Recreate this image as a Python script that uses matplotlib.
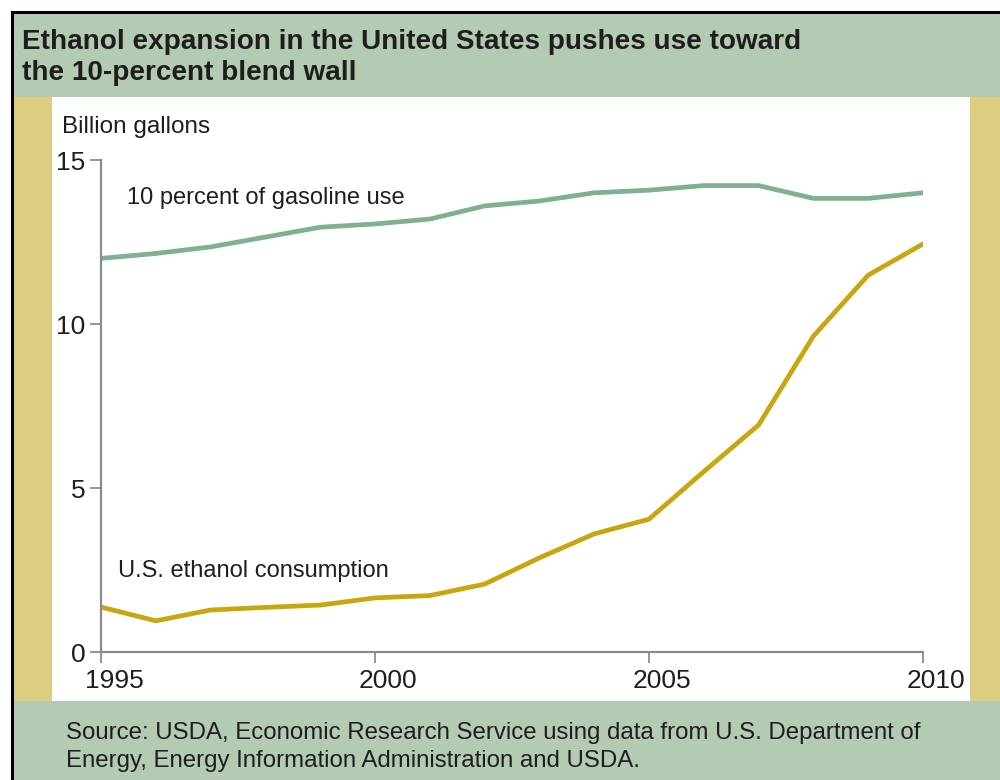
import matplotlib.pyplot as plt
from matplotlib.patches import Rectangle
from matplotlib.transforms import offset_copy

plt.rcParams['font.family'] = ['Liberation Sans', 'DejaVu Sans']

years = list(range(1995, 2011))
gasoline_10pct = [12.0, 12.15, 12.35, 12.65, 12.95, 13.05, 13.2, 13.6, 13.75,
                  14.0, 14.08, 14.22, 14.22, 13.83, 13.83, 14.0]
ethanol_use = [1.37, 0.95, 1.28, 1.36, 1.43, 1.65, 1.72, 2.07, 2.87,
               3.6, 4.05, 5.5, 6.92, 9.63, 11.49, 12.44]
x_ticks = [1995, 2000, 2005, 2010]
y_ticks = [0, 5, 10, 15]

HEADER = '#b3cbb3'
SIDE = '#ddcd80'
GREEN = '#7fb190'
GOLD = '#c9a60d'
AXIS = '#8c8c8c'
INK = '#1e1e1e'

W, H = 1000, 780
fig = plt.figure(figsize=(10, 7.8), dpi=100)


def box(x0, y0, x1, y1, color):
    # pixel coords, origin at top-left
    fig.patches.append(Rectangle((x0 / W, 1 - y1 / H), (x1 - x0) / W, (y1 - y0) / H,
                                 transform=fig.transFigure, facecolor=color,
                                 edgecolor='none', zorder=0))


def label(x, y, s, **kw):
    fig.text(x / W, 1 - y / H, s, va='center', ha='left', color=INK, **kw)


box(12, 12, W, 97, HEADER)
box(12, 97, 52, 701, SIDE)
box(970, 97, W, 701, SIDE)
box(12, 701, W, H, HEADER)
fig.patches.append(Rectangle((11.5 / W, -0.1), 1.2, 1 - 12.5 / H + 0.1,
                             transform=fig.transFigure, facecolor='none',
                             edgecolor='black', linewidth=2.2, zorder=5))

label(22, 42, 'Ethanol expansion in the United States pushes use toward',
      fontsize=20.1, fontweight='bold')
label(22, 73, 'the 10-percent blend wall', fontsize=20.1, fontweight='bold')
label(62, 127, 'Billion gallons', fontsize=17.5)
label(66, 733, 'Source: USDA, Economic Research Service using data from U.S. Department of',
      fontsize=17.25)
label(66, 761, 'Energy, Energy Information Administration and USDA.', fontsize=17.25)

ax = fig.add_axes([101 / W, 1 - 652 / H, 822 / W, 492 / H])
ax.plot(years, gasoline_10pct, color=GREEN, linewidth=3.4)
ax.plot(years, ethanol_use, color=GOLD, linewidth=3.4)

ax.text(1995.47, 13.84, '10 percent of gasoline use', fontsize=17, color=INK,
        va='center', ha='left')
ax.text(1995.31, 2.47, 'U.S. ethanol consumption', fontsize=17, color=INK,
        va='center', ha='left')

ax.set_xlim(1995, 2010)
ax.set_ylim(0, 15)
ax.set_xticks(x_ticks)
ax.set_yticks(y_ticks)
ax.set_facecolor('none')
for side in ('top', 'right'):
    ax.spines[side].set_visible(False)
for side in ('left', 'bottom'):
    ax.spines[side].set_color(AXIS)
    ax.spines[side].set_linewidth(1.6)
ax.tick_params(axis='both', colors=AXIS, width=1.3, length=8, labelsize=19,
               labelcolor=INK, direction='out')
ax.tick_params(axis='x', pad=4)
ax.tick_params(axis='y', pad=3)
# year labels sit a little to the right of their ticks
for lbl in ax.get_xticklabels():
    lbl.set_transform(offset_copy(lbl.get_transform(), fig=fig, x=13, units='dots'))

fig.savefig('out.png', dpi=100)
